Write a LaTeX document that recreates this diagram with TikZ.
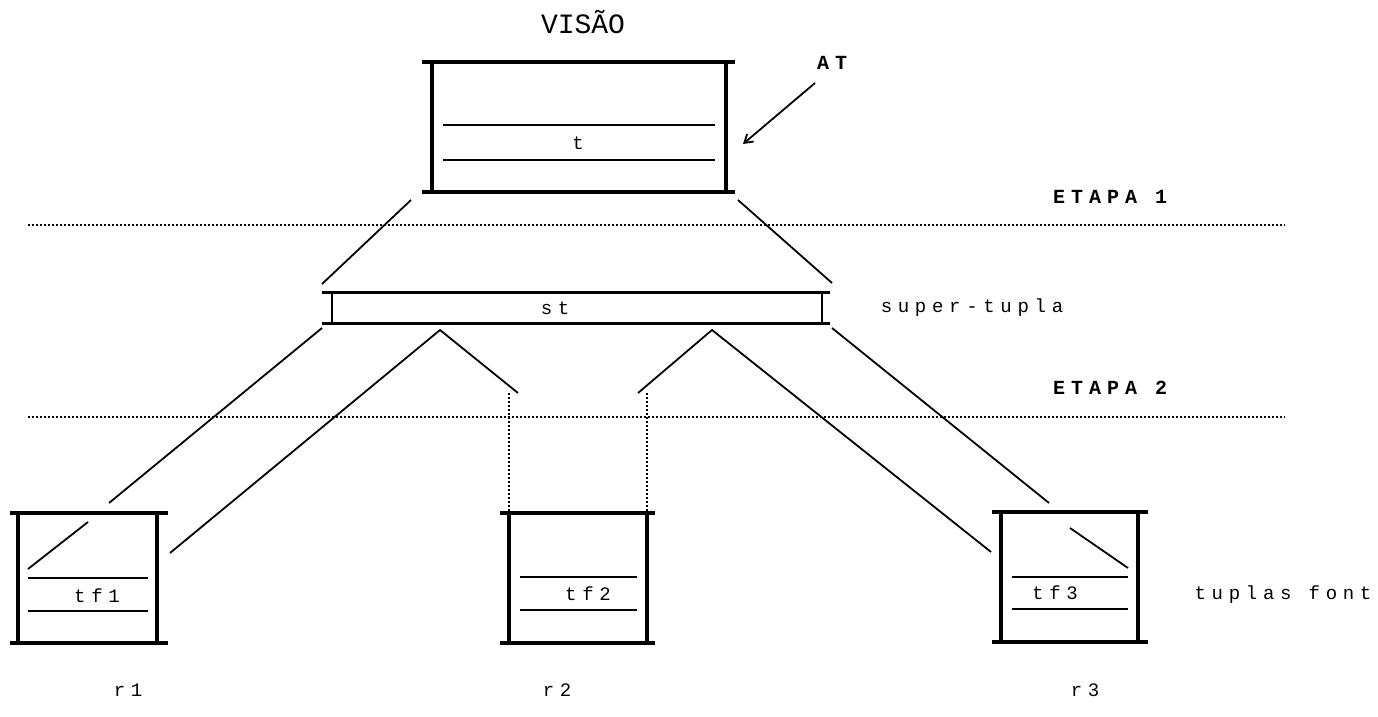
\documentclass[tikz,border=0pt]{standalone}
\usepackage{fontspec}
\usetikzlibrary{arrows.meta}
\newfontfamily\dotfont[LetterSpace=30]{Liberation Mono}
\newfontfamily\titlefont{Liberation Mono}
\begin{document}
\begin{tikzpicture}[x=1pt,y=-1pt,
  heavy/.style={line width=4pt},
  thinline/.style={line width=1.8pt},
  dotline/.style={line width=1.5pt, dash pattern=on 1.5pt off 2.5pt},
  lbl/.style={font=\dotfont\fontsize{19}{21}\selectfont, inner sep=0pt},
  blbl/.style={font=\dotfont\bfseries\fontsize{20}{22}\selectfont, inner sep=0pt}]
\useasboundingbox (0,0) rectangle (1378,717);
% title
\node[font=\titlefont\fontsize{28}{30}\selectfont, inner sep=0pt] (visao) at (583,22) {VISÃO};
% top box
\draw[heavy] (422,62) -- (735,62) (422,192) -- (735,192) (432,62) -- (432,192) (726,62) -- (726,192);
\draw[thinline] (443,125) -- (715,125) (443,160) -- (715,160);
\node[lbl] (t) at (578,143) {t};
% AT arrow
\node[blbl] (at) at (832,63) {AT};
\coordinate (atS) at (815,83);
\coordinate (atE) at (743,144);
\draw[thinline,-{Straight Barb[length=8pt,width=10pt]}] (atS) -- (atE);
% etapa lines
\draw[dotline] (28,225) -- (1285,225);
\draw[dotline] (28,417) -- (1285,417);
\node[blbl] (e1) at (1110,197) {ETAPA 1};
\node[blbl] (e2) at (1110,388) {ETAPA 2};
% st box
\draw[heavy, line width=3pt] (322,292) -- (830,292) (322,323) -- (830,323);
\draw[thinline] (332,292) -- (332,323) (822,292) -- (822,323);
\node[lbl] (st) at (555,308) {st};
\node[lbl] (sup) at (972,308) {super-tupla};
% connectors top
\coordinate (a1) at (411,200); \coordinate (a2) at (322,284);
\coordinate (b1) at (738,200); \coordinate (b2) at (832,283);
\draw[thinline] (a1) -- (a2) (b1) -- (b2);
% connectors bottom
\coordinate (c1) at (322,328); \coordinate (c2) at (109,503);
\coordinate (p1) at (440,330); \coordinate (p1l) at (170,553); \coordinate (p1r) at (518,393);
\coordinate (p2) at (712,330); \coordinate (p2l) at (638,393); \coordinate (p2r) at (991,552);
\coordinate (d1) at (832,328); \coordinate (d2) at (1049,503);
\draw[thinline] (c1) -- (c2);
\draw[thinline] (p1l) -- (p1) -- (p1r);
\draw[thinline] (p2l) -- (p2) -- (p2r);
\draw[thinline] (d1) -- (d2);
\coordinate (v1t) at (509,393); \coordinate (v1b) at (509,511);
\coordinate (v2t) at (647,393); \coordinate (v2b) at (647,511);
\draw[dotline] (v1t) -- (v1b) (v2t) -- (v2b);
% box 1
\draw[heavy] (10,513) -- (168,513) (10,643) -- (168,643) (18,513) -- (18,643) (157,513) -- (157,643);
\draw[thinline] (28,578) -- (148,578) (28,611) -- (148,611);
\draw[thinline] (28,569) -- (88,522);
\node[lbl] (tf1) at (97,596) {tf1};
% box 2
\draw[heavy] (500,513) -- (655,513) (500,643) -- (655,643) (509,513) -- (509,643) (647,513) -- (647,643);
\draw[thinline] (520,577) -- (637,577) (520,610) -- (637,610);
\node[lbl] (tf2) at (588,594) {tf2};
% box 3
\draw[heavy] (992,512) -- (1148,512) (992,642) -- (1148,642) (1001,512) -- (1001,642) (1138,512) -- (1138,642);
\draw[thinline] (1012,577) -- (1128,577) (1012,609) -- (1128,609);
\draw[thinline] (1070,528) -- (1128,568);
\node[lbl] (tf3) at (1055,593) {tf3};
\node[lbl] (tfont) at (1283,595) {tuplas font};
% r labels
\node[lbl] (r1) at (128,690) {r1};
\node[lbl] (r2) at (557,690) {r2};
\node[lbl] (r3) at (1085,690) {r3};
\end{tikzpicture}
\end{document}
